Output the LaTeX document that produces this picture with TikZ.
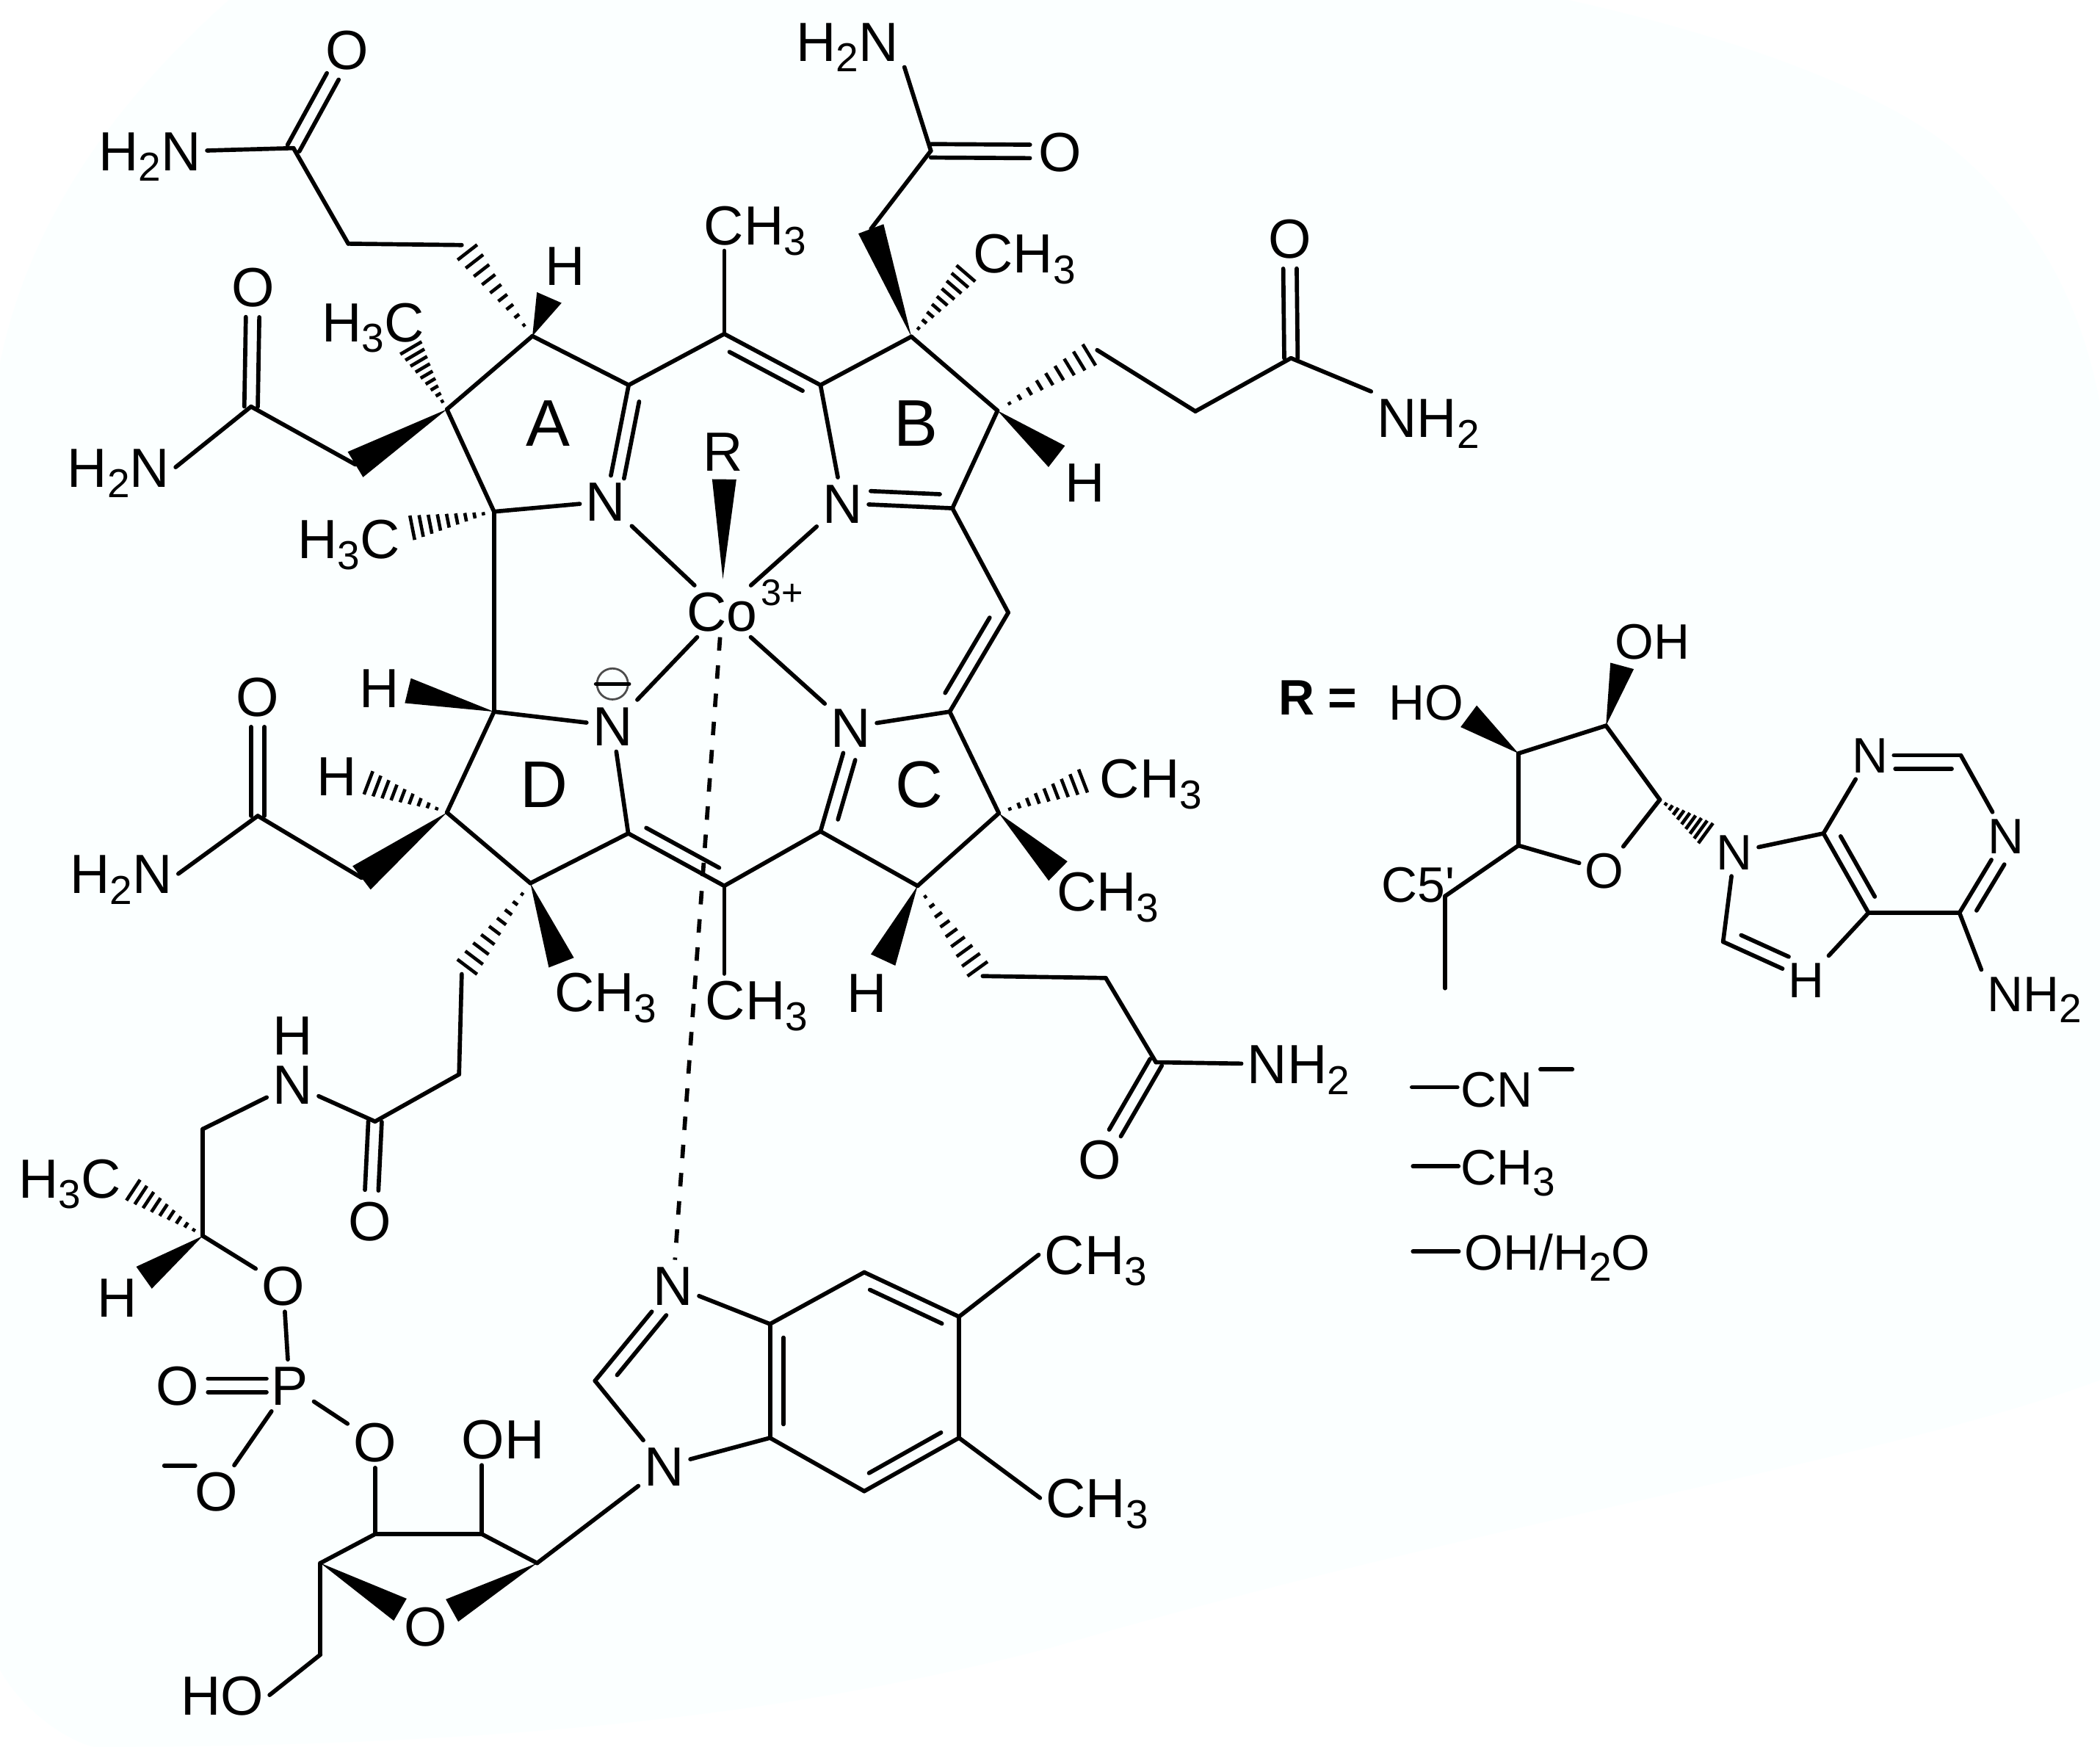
\documentclass[tikz,border=0pt]{standalone}
\usepackage{fontspec}
\setmainfont{Liberation Sans}
\usetikzlibrary{calc}
\definecolor{paper}{HTML}{FBFFFF}
\newcommand{\lowr}[1]{\raisebox{-1.6pt}{\fontsize{6}{6}\selectfont #1}}
\newcommand{\wdg}[3]{\fill (#1) -- ($(#2)!#3!90:(#1)$) -- ($(#2)!#3!-90:(#1)$) -- cycle;}
\newcommand{\hsh}[2]{\foreach \hs in {0.12,0.22,...,1.0}
    \draw[hashline] ($(#1)!\hs!(#2)!{\hs*2pt}!90:(#2)$) -- ($(#1)!\hs!(#2)!{\hs*2pt}!-90:(#2)$);}
\newcommand{\dbl}[5]{\draw[bond] ($(#1)!#4!(#2)!#3!90:(#2)$) -- ($(#1)!#5!(#2)!#3!90:(#2)$);}
\newcommand{\dsym}[3]{\draw[bond,shorten <=#3,shorten >=4.5pt] ($(#1)!1pt!90:(#2)$) -- ($(#2)!1pt!-90:(#1)$);
    \draw[bond,shorten <=#3,shorten >=4.5pt] ($(#1)!1pt!-90:(#2)$) -- ($(#2)!1pt!90:(#1)$);}
\tikzset{
    bond/.style={line width=0.62pt,line cap=round},
    hashline/.style={line width=0.5pt},
    atom/.style={inner sep=0.7pt,text height=5.9pt,text depth=0pt,font=\fontsize{8.2}{9}\selectfont},
    small/.style={inner sep=0.7pt,text height=5.3pt,text depth=0pt,font=\fontsize{7.4}{8}\selectfont},
    ringname/.style={inner sep=0pt,font=\fontsize{9.8}{10}\selectfont},
}
\begin{document}
\begin{tikzpicture}[x=0.2pt,y=-0.2pt]
    \useasboundingbox (0,0) rectangle (1560,1297.6);
    \fill[white] (0,0) rectangle (1560,1297.6);
    \fill[paper] (170,0) -- (1165,0) .. controls (1300,30) and (1400,70) .. (1450,110)
        .. controls (1510,160) and (1545,220) .. (1560,300) -- (1560,1025)
        .. controls (1400,1085) and (1100,1130) .. (780,1224)
        .. controls (600,1270) and (400,1297) .. (70,1297.6)
        .. controls (40,1290) and (10,1260) .. (0,1240) -- (0,270)
        .. controls (20,170) and (80,80) .. (170,0) -- cycle;
    %% macrocycle atoms
    \foreach \n/\p in {a1/{367,380},a2/{332,304},a3/{395.5,249.6},a4/{467,286},m1/{538,248},
        b1/{609.5,286},b2/{677,250},b3/{741,305},b4/{707.5,377.5},m2/{749,455},
        c1/{705.5,528.6},c2/{742,604},c3/{681.6,658},c4/{609.5,617.5},m3/{538,658},
        d1/{466.7,619},d2/{394,656},d3/{332,603.5},d4/{367,528.6}}
        \coordinate (\n) at (\p);
    %% side chain atoms
    \foreach \n/\p in {sa1/{343,182},sa2/{258.7,181},sa3/{218,110},sb1/{264,345},sb2/{186.5,302},
        sc1/{647,170},sc2/{691.5,112},sd1/{815,260},sd2/{888,305.5},sd3/{959,266},
        se1/{730,725},se2/{821.4,726.4},se3/{858.7,789},sf1/{268.6,652},sf2/{191.5,606},
        sg1/{343,723.5},sg2/{341,798},sg3/{278.6,833},lk1/{150.7,838.6},lk2/{150.7,918},
        su1/{278.6,1139.5},su2/{358,1139.5},su3/{399,1161},su4/{238,1161},su5/{238,1229},
        bz1/{442,1025.6},bz2/{572,983.4},bz3/{572,1068},bz4/{642,945},bz5/{712.4,978},
        bz6/{712.4,1068},bz7/{642,1107.6}}
        \coordinate (\n) at (\p);
    %% ends of wedges and hashes
    \foreach \n/\p in {wa/{408,221},ha/{303,254.5},hb/{301,393},wc/{303,513},hd/{268.6,579.5},
        he/{721,199},wf/{785,339},hg/{810,578},wg/{786,647},wh/{656,713},wi/{417,715},
        wj/{107,949},hj/{94.5,881},rt/{537,430},rw/{538,356},wk/{297.3,1195.6},wl/{335.8,1196.2},
        rn1/{1128,559.6},rn2/{1193,539},rn3/{1233,594},rn4/{1128,628},rn5/{1073.5,665.6},
        rn6/{1073.5,734},wm/{1091,532},wn/{1205,494.6},ho/{1270,621},pu1/{1354.6,619},
        pu2/{1456.6,561},pu3/{1455.6,678},pu4/{1388,678},pu5/{1280,699.5}}
        \coordinate (\n) at (\p);
    %% labels
    \node[atom] (o1) at (258,37) {O};
    \node[atom] (nh1) at (111.4,111.8) {H\lowr{2}N};
    \node[atom] (o2) at (188,213) {O};
    \node[atom] (nh2) at (88,347) {H\lowr{2}N};
    \node[atom] (mea) at (277,239) {H\lowr{3}C};
    \node[atom] (ha1) at (420,197.4) {H};
    \node[atom] (me1) at (561,167) {CH\lowr{3}};
    \node[atom] (nh3) at (629.4,30.6) {H\lowr{2}N};
    \node[atom] (o3) at (787.6,112.6) {O};
    \node[atom] (meb) at (761,188) {CH\lowr{3}};
    \node[atom] (o4) at (958,177) {O};
    \node[atom] (nh4) at (1061,310) {NH\lowr{2}};
    \node[atom] (hb1) at (806,358) {H};
    \node[ringname] (la) at (407,314.6) {A};
    \node[ringname] (lb) at (680.6,314.6) {B};
    \node[ringname] (lc) at (683,582.8) {C};
    \node[ringname] (ld) at (404,582.8) {D};
    \node[atom] (r) at (537,335) {R};
    \node[atom] (na) at (450,372.5) {N};
    \node[atom] (nb) at (626,373.8) {N};
    \node[atom] (nc) at (632,540) {N};
    \node[atom] (nd) at (455,539) {N};
    \node[atom] (co) at (536.3,454) {Co};
    \node[inner sep=0pt,font=\fontsize{5.5}{6}\selectfont] (ch) at (581,440) {3+};
    \node[draw=black!70,circle,inner sep=0pt,minimum size=4.6pt,line width=0.3pt] (neg) at (455,508) {};
    \node[atom] (mec) at (259,400) {H\lowr{3}C};
    \node[atom] (hd1) at (282,511) {H};
    \node[atom] (hd2) at (250,576) {H};
    \node[atom] (o5) at (191.5,517.4) {O};
    \node[atom] (nh5) at (90,649) {H\lowr{2}N};
    \node[atom] (med) at (855,578) {CH\lowr{3}};
    \node[atom] (mee) at (823,662) {CH\lowr{3}};
    \node[atom] (mef) at (450,736.8) {CH\lowr{3}};
    \node[atom] (me2) at (562,742.5) {CH\lowr{3}};
    \node[atom] (hc1) at (644,737.2) {H};
    \node[atom] (nh6) at (964.6,790) {NH\lowr{2}};
    \node[atom] (o6) at (817,861) {O};
    \node[atom] (hn) at (217.4,769) {H};
    \node[atom] (nl) at (217.4,805.5) {N};
    \node[atom] (o7) at (275,906.5) {O};
    \node[atom] (meg) at (51.7,875) {H\lowr{3}C};
    \node[atom] (hl) at (87,963.6) {H};
    \node[atom] (o8) at (210.4,955) {O};
    \node[atom] (p) at (215,1029) {P};
    \node[atom] (o9) at (132,1029) {O};
    \node[atom] (o10) at (160.7,1107.6) {O};
    \node[atom] (o11) at (278.6,1071) {O};
    \node[atom] (oh1) at (373.6,1069) {OH};
    \node[atom] (oh2) at (165,1259) {HO};
    \node[atom] (o12) at (316,1207.8) {O};
    \node[atom] (n3) at (500,955) {N};
    \node[atom] (n1) at (493.5,1089) {N};
    \node[atom] (me3) at (814,932) {CH\lowr{3}};
    \node[atom] (me4) at (815,1112.6) {CH\lowr{3}};
    %% R group and the other ligands
    \node[small,font=\fontsize{7.4}{8}\selectfont\bfseries] (req) at (979,517.8) {R =};
    \node[small] (oh3) at (1059.7,521.5) {HO};
    \node[small] (oh4) at (1227.4,476.4) {OH};
    \node[small] (rn) at (1288.5,633) {N};
    \node[small] (pn3) at (1389,561) {N};
    \node[small] (pn1) at (1490,620.9) {N};
    \node[small] (ro) at (1192,646.5) {O};
    \node[small] (c5) at (1053.7,657) {C5\textquotesingle};
    \node[small] (ph) at (1342,727.6) {H};
    \node[small] (pnh) at (1511.4,738) {NH\lowr{2}};
    \node[small] (cn) at (1112,808.8) {CN};
    \node[small] (me5) at (1120,867) {CH\lowr{3}};
    \node[small] (wat) at (1157,930) {OH/H\lowr{2}O};
    \foreach \n/\p in {l1a/{1048.8,807.5},l1b/{1082.6,807.5},l2a/{1049.6,866.3},l2b/{1083.4,866.3},
        l3a/{1049.6,929.6},l3b/{1083.6,929.6},m1a/{1144.3,794.3},m1b/{1168,794.3},
        m2a/{122,1088.6},m2b/{145,1088.6}}
        \coordinate (\n) at (\p);
    %% single bonds
    \foreach \a/\b in {a1/a2,a2/a3,a3/a4,a4/m1,b1/b2,b2/b3,b3/b4,b4/m2,c1/c2,c2/c3,c3/c4,c4/m3,
        d1/d2,d2/d3,d3/d4,d4/a1,a1/na,na/co,nb/co,nc/co,nd/co,a4/na,b1/nb,b4/nb,c1/nc,c4/nc,
        d1/nd,d4/nd,neg.west/neg.east,
        sa1/sa2,sa2/sa3,sa3/nh1.east,sb1/sb2,sb2/nh2.east,sc1/sc2,sc2/nh3.south east,
        sd1/sd2,sd2/sd3,sd3/nh4.north west,se1/se2,se2/se3,se3/nh6.west,sf1/sf2,sf2/nh5.east,
        sg1/sg2,sg2/sg3,sg3/nl,nl/lk1,lk1/lk2,lk2/o8,o8/p,p/o10,p/o11,o11/su1,su1/su2,su2/su3,
        su1/su4,su4/su5,su5/oh2.east,su3/n1,n1/bz1,n1/bz3,n3/bz2,bz2/bz4,bz5/bz6,bz7/bz3,
        bz5/me3.west,bz6/me4.west,
        rn1/rn2,rn2/rn3,rn3/ro,ro/rn4,rn4/rn1,rn4/rn5,rn5/rn6,rn/pu1,pu1/pn3,pn3/pu2,pu2/pn1,
        pn1/pu3,pu3/pu4,pu4/pu1,rn/pu5,pu4/ph,pu3/pnh.north west,pu5/ph,
        l1a/l1b,l2a/l2b,l3a/l3b,m1a/m1b,m2a/m2b}
        \draw[bond] (\a) -- (\b);
    \draw[bond] (su2) -- (oh1.south -| su2);
    \draw[bond] (m1) -- (me1.south -| m1);
    \draw[bond] (m3) -- (me2.north -| m3);
    \draw[bond,dash pattern=on 2pt off 2.2pt,line cap=butt] (co) -- (n3);
    %% double bonds
    \draw[bond] (m1) -- (b1);
    \draw[bond] (m2) -- (c1);
    \draw[bond] (d1) -- (m3);
    \draw[bond] (n3) -- (bz1);
    \draw[bond] (bz2) -- (bz3);
    \draw[bond] (bz4) -- (bz5);
    \draw[bond] (bz6) -- (bz7);
    \dbl{a4}{na}{2pt}{0.12}{0.78}
    \dbl{m1}{b1}{-2pt}{0.12}{0.88}
    \dbl{nb}{b4}{2pt}{0.25}{0.88}
    \dbl{m2}{c1}{-2pt}{0.12}{0.88}
    \dbl{nc}{c4}{2pt}{0.28}{0.85}
    \dbl{d1}{m3}{2pt}{0.12}{0.88}
    \dbl{bz1}{n3}{-2pt}{0.15}{0.78}
    \dbl{bz2}{bz3}{2pt}{0.12}{0.88}
    \dbl{bz4}{bz5}{-2pt}{0.12}{0.88}
    \dbl{bz6}{bz7}{-2pt}{0.12}{0.88}
    \dbl{pn3}{pu2}{-2pt}{0.28}{0.9}
    \dbl{pn1}{pu3}{2pt}{0.28}{0.88}
    \dbl{pu4}{pu1}{-2pt}{0.12}{0.88}
    \dbl{pu5}{ph}{2pt}{0.15}{0.72}
    \dsym{sa3}{o1}{0pt}
    \dsym{sb2}{o2}{0pt}
    \dsym{sc2}{o3}{0pt}
    \dsym{sd3}{o4}{0pt}
    \dsym{sf2}{o5}{0pt}
    \dsym{se3}{o6}{0pt}
    \dsym{sg3}{o7}{0pt}
    \dsym{p}{o9}{3.4pt}
    %% wedges
    \foreach \a/\b/\w in {a3/wa/2pt,a2/sb1/2.2pt,d4/wc/1.9pt,d3/sf1/2.2pt,b2/sc1/2pt,b3/wf/2pt,
        c2/wg/2pt,c3/wh/2pt,d2/wi/2pt,lk2/wj/2pt,rt/rw/1.8pt,su4/wk/1.9pt,su3/wl/1.9pt,
        rn1/wm/2pt,rn2/wn/1.8pt}{
        \wdg{\a}{\b}{\w}
    }
    %% hashes
    \foreach \a/\b in {a3/sa1,a2/ha,a1/hb,d3/hd,b2/he,b3/sd1,c2/hg,c3/se1,d2/sg1,lk2/hj,rn3/ho}{
        \hsh{\a}{\b}
    }
\end{tikzpicture}
\end{document}
